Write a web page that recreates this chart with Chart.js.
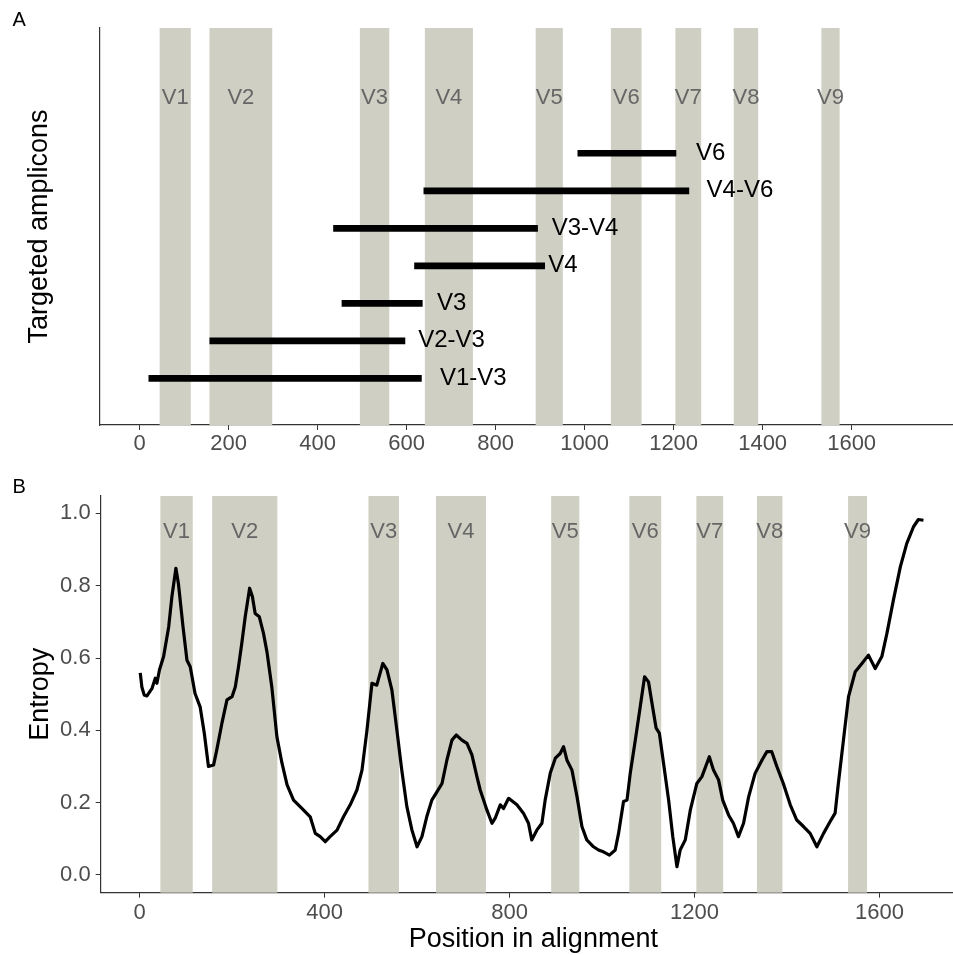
<!DOCTYPE html>
<html><head><meta charset="utf-8">
<script src="https://cdn.jsdelivr.net/npm/chart.js@4"></script>
<style>
html,body{margin:0;padding:0;background:#fff;width:953px;height:955px;overflow:hidden;}
#wa{position:absolute;left:0;top:0;width:970px;height:470px;}
#wb{position:absolute;left:0;top:470px;width:970px;height:485px;}
</style></head><body>
<div id="wa"><canvas id="ca" width="970" height="470"></canvas></div>
<div id="wb"><canvas id="cb" width="970" height="485"></canvas></div>
<script>
// Variable regions
const regionNames = ['V1','V2','V3','V4','V5','V6','V7','V8','V9'];
const regionStart = [45,157,495,641,890,1059,1204,1335,1532];
const regionEnd   = [115,298,561,749,951,1128,1262,1390,1573];

// Panel A: targeted amplicons
const amplicons = ['V1-V3','V2-V3','V3','V4','V3-V4','V4-V6','V6'];
const ampStart  = [20,157,454,617,435,638,984];
const ampEnd    = [634,597,636,911,895,1235,1206];
const ampLabelX = [675,626,668,918,926,1274,1250];
const xTicksA   = [0,200,400,600,800,1000,1200,1400,1600];

// Panel B: entropy along alignment
const positions = [1.5,5,10,16,27,34,37.6,43,52,63,70,78.6,84,94,102.5,109.6,120,131,140,149,160,167,178,189,200,207,214,221,228.5,238,244,250,259,268,275.5,286,297,308,319,333,351,369,380,390.7,401.5,412,427,441,455.5,470,481,491.7,502.5,513,526,535,545.7,556.5,567,578,589,600,610.6,621,632,643,654,664.6,675.5,684.8,697,708,718.7,729.5,736.6,751,762,769,780,787,798,816,830,841,848,859,870,877,888,899,909.6,916.8,924,935,946,956.5,967,981.6,992.4,1003,1016,1028.5,1035.7,1046.5,1054,1061,1072,1082.6,1092,1100.5,1108,1117,1124,1133,1144,1153,1162,1169,1180,1191,1205,1216,1232,1241,1252,1261,1273.5,1284,1295,1306,1317,1331,1346,1356.5,1367,1378,1392,1407,1421,1435.6,1450,1464.6,1479,1493,1504,1511,1522,1533,1547.5,1562,1576,1590.7,1605,1616,1630,1645,1659,1673.5,1684,1695];
const entropy = [0.559,0.52,0.498,0.495,0.516,0.544,0.53,0.567,0.604,0.686,0.77,0.848,0.806,0.686,0.594,0.576,0.502,0.465,0.392,0.30,0.304,0.346,0.419,0.484,0.493,0.52,0.576,0.64,0.714,0.793,0.77,0.723,0.714,0.668,0.617,0.52,0.382,0.309,0.249,0.207,0.184,0.161,0.115,0.106,0.092,0.106,0.124,0.161,0.194,0.235,0.29,0.40,0.53,0.525,0.585,0.567,0.511,0.40,0.29,0.189,0.124,0.078,0.106,0.161,0.207,0.23,0.253,0.318,0.373,0.387,0.373,0.364,0.332,0.272,0.235,0.18,0.143,0.157,0.194,0.184,0.212,0.194,0.171,0.143,0.097,0.124,0.143,0.207,0.281,0.323,0.336,0.355,0.318,0.29,0.216,0.134,0.097,0.078,0.069,0.064,0.055,0.069,0.115,0.203,0.207,0.281,0.373,0.465,0.548,0.534,0.475,0.406,0.392,0.309,0.207,0.106,0.023,0.069,0.097,0.18,0.253,0.272,0.327,0.29,0.263,0.207,0.166,0.143,0.106,0.143,0.216,0.281,0.318,0.341,0.341,0.30,0.253,0.194,0.152,0.134,0.115,0.078,0.115,0.147,0.171,0.253,0.373,0.493,0.562,0.585,0.608,0.571,0.604,0.668,0.76,0.852,0.917,0.963,0.983,0.981];
const xTicksB = [0,400,800,1200,1600];
const yTicksB = [0,0.2,0.4,0.6,0.8,1.0];

const FONT = "'Liberation Sans', Arial, Helvetica, sans-serif";
Chart.defaults.font.family = FONT;
Chart.defaults.animation = false;
const SHADE = '#cfcfc3';
const AXIS = '#333333';
const TICKC = '#4d4d4d';

function overlayPlugin(vLabelY, letter, letterY, drawAmp) {
  return {
    id: 'overlay' + letter,
    beforeDatasetsDraw(chart) {
      const {ctx, chartArea, scales} = chart;
      ctx.save();
      ctx.fillStyle = SHADE;
      regionNames.forEach((n, i) => {
        const x0 = scales.x.getPixelForValue(regionStart[i]);
        const x1 = scales.x.getPixelForValue(regionEnd[i]);
        ctx.fillRect(x0, chartArea.top, x1 - x0, chartArea.bottom - chartArea.top);
      });
      ctx.fillStyle = '#666666';
      ctx.font = '22px ' + FONT;
      ctx.textAlign = 'center';
      ctx.textBaseline = 'middle';
      regionNames.forEach((n, i) => {
        const xc = scales.x.getPixelForValue((regionStart[i] + regionEnd[i]) / 2);
        ctx.fillText(n, xc, scales.y.getPixelForValue(vLabelY));
      });
      ctx.restore();
    },
    afterDraw(chart) {
      const {ctx, scales} = chart;
      ctx.save();
      if (drawAmp) {
        ctx.fillStyle = '#000';
        ctx.font = '24px ' + FONT;
        ctx.textAlign = 'left';
        ctx.textBaseline = 'middle';
        amplicons.forEach((a, i) => {
          ctx.fillText(a, scales.x.getPixelForValue(ampLabelX[i]), scales.y.getPixelForValue(i + 1));
        });
      }
      ctx.fillStyle = '#000';
      ctx.font = '20px ' + FONT;
      ctx.textAlign = 'left';
      ctx.textBaseline = 'alphabetic';
      ctx.fillText(letter, 12.5, letterY);
      ctx.restore();
    }
  };
}

// Panel A
new Chart(document.getElementById('ca'), {
  type: 'line',
  data: {
    datasets: amplicons.map((a, i) => ({
      label: a,
      data: [{x: ampStart[i], y: i + 1}, {x: ampEnd[i], y: i + 1}],
      borderColor: '#000',
      borderWidth: 6.7,
      borderCapStyle: 'butt',
      pointRadius: 0,
      fill: false
    }))
  },
  options: {
    responsive: false,
    devicePixelRatio: 1,
    layout: {padding: {top: 28, right: 4, left: 0, bottom: 0}},
    plugins: {legend: {display: false}, tooltip: {enabled: false}},
    scales: {
      x: {
        type: 'linear', min: -89, max: 1857,
        afterBuildTicks: s => { s.ticks = xTicksA.map(v => ({value: v})); },
        afterFit: s => { s.height = 45; },
        grid: {display: true, drawOnChartArea: false, drawTicks: true, tickLength: 5, color: AXIS, lineWidth: 1},
        border: {display: true, color: AXIS, width: 1.2},
        ticks: {color: TICKC, font: {size: 22}, padding: 1, maxRotation: 0, autoSkip: false, callback: v => String(v)}
      },
      y: {
        type: 'linear', min: -0.245, max: 10.34,
        afterFit: s => { s.width = 100; },
        grid: {display: false},
        border: {display: true, color: AXIS, width: 1.2},
        ticks: {display: false},
        title: {display: true, text: 'Targeted amplicons', color: '#000', font: {size: 27, lineHeight: 1}, padding: {top: 26.5, bottom: 0}}
      }
    }
  },
  plugins: [overlayPlugin(8.47, 'A', 26, true)]
});

// Panel B
new Chart(document.getElementById('cb'), {
  type: 'line',
  data: {
    datasets: [{
      label: 'Entropy',
      data: positions.map((p, i) => ({x: p, y: entropy[i]})),
      borderColor: '#000',
      borderWidth: 3.2,
      borderJoinStyle: 'round',
      pointRadius: 0,
      tension: 0,
      fill: false
    }]
  },
  options: {
    responsive: false,
    devicePixelRatio: 1,
    layout: {padding: {top: 26, right: 4, left: 0, bottom: 0}},
    plugins: {legend: {display: false}, tooltip: {enabled: false}},
    scales: {
      x: {
        type: 'linear', min: -84, max: 1787,
        afterBuildTicks: s => { s.ticks = xTicksB.map(v => ({value: v})); },
        afterFit: s => { s.height = 62.3; },
        grid: {display: true, drawOnChartArea: false, drawTicks: true, tickLength: 5, color: AXIS, lineWidth: 1},
        border: {display: true, color: AXIS, width: 1.2},
        ticks: {color: TICKC, font: {size: 22}, padding: 2.5, maxRotation: 0, autoSkip: false, callback: v => String(v)},
        title: {display: true, text: 'Position in alignment', color: '#000', font: {size: 27, lineHeight: 1}, padding: {top: 0, bottom: 1.5}}
      },
      y: {
        type: 'linear', min: -0.049, max: 1.048,
        afterBuildTicks: s => { s.ticks = yTicksB.map(v => ({value: v})); },
        afterFit: s => { s.width = 100.7; },
        grid: {display: true, drawOnChartArea: false, drawTicks: true, tickLength: 5, color: AXIS, lineWidth: 1},
        border: {display: true, color: AXIS, width: 1.2},
        ticks: {color: TICKC, font: {size: 22}, padding: 5, autoSkip: false, callback: v => v.toFixed(1)},
        title: {display: true, text: 'Entropy', color: '#000', font: {size: 27, lineHeight: 1}, padding: {top: 27, bottom: 0}}
      }
    }
  },
  plugins: [overlayPlugin(0.95, 'B', 23.3, false)]
});
</script>
</body></html>
